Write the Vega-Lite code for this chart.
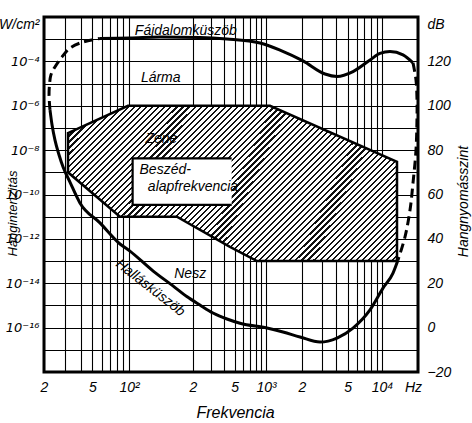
{
"$schema": "https://vega.github.io/schema/vega-lite/v6.json",
"width": 374,
"height": 355,
"autosize": {"type": "none"},
"padding": {"left": 44, "top": 17, "right": 54, "bottom": 51},
"background": "white",
"config": {
  "view": {"stroke": "black", "strokeWidth": 3},
  "axis": {"labelFont": "Liberation Sans Narrow, Liberation Sans", "labelFontStyle": "italic", "labelColor": "black", "labelFontSize": 14,
           "titleFont": "Liberation Sans Narrow, Liberation Sans", "titleFontStyle": "italic", "titleFontWeight": "normal", "titleColor": "black", "titleFontSize": 15,
           "gridColor": "black", "gridOpacity": 1, "gridWidth": 1.1, "ticks": false, "domain": false, "zindex": 1,
           "labelOverlap": false, "labelBound": false, "labelFlush": false},
  "text": {"font": "Liberation Sans Narrow, Liberation Sans", "fontStyle": "italic", "fontSize": 14, "color": "black"}
},
"datasets": {
  "zene": [
    {"i": 1, "f": 31.5, "db": 87.7}, {"i": 2, "f": 98.1, "db": 100}, {"i": 3, "f": 1080, "db": 100},
    {"i": 4, "f": 13348, "db": 74.7}, {"i": 5, "f": 13348, "db": 30}, {"i": 6, "f": 820, "db": 30},
    {"i": 7, "f": 452, "db": 36.4}, {"i": 8, "f": 168, "db": 50}, {"i": 9, "f": 84.3, "db": 50},
    {"i": 10, "f": 31.5, "db": 70}
  ],
  "speech": [{"f": 104, "f2": 469, "db": 55.3, "db2": 76.3}],
  "speechEdge": [
    {"i": 1, "f": 469, "db": 76.3}, {"i": 2, "f": 104, "db": 76.3}, {"i": 3, "f": 104, "db": 55.3}, {"i": 4, "f": 469, "db": 55.3}
  ],
  "painDashL": [
    {"i": 0, "f": 22.4, "db": 98.1}, {"i": 1, "f": 22.0, "db": 104.9}, {"i": 2, "f": 22.2, "db": 109.4},
    {"i": 3, "f": 22.8, "db": 113.9}, {"i": 4, "f": 24.6, "db": 117.5}, {"i": 5, "f": 28.1, "db": 122.0},
    {"i": 6, "f": 32.7, "db": 126.0}, {"i": 7, "f": 41.8, "db": 128.7}, {"i": 8, "f": 57.7, "db": 130.3}
  ],
  "pain": [
    {"i": 0, "f": 57.7, "db": 130.3}, {"i": 1, "f": 101, "db": 130.5}, {"i": 2, "f": 140, "db": 131.0},
    {"i": 3, "f": 233, "db": 130.8}, {"i": 4, "f": 423, "db": 130.1}, {"i": 5, "f": 876, "db": 128.3},
    {"i": 6, "f": 1309, "db": 125.1}, {"i": 7, "f": 2041, "db": 120.2}, {"i": 8, "f": 3177, "db": 114.3},
    {"i": 9, "f": 4044, "db": 113.2}, {"i": 10, "f": 5580, "db": 115.4}, {"i": 11, "f": 7854, "db": 120.6},
    {"i": 12, "f": 9604, "db": 123.6}, {"i": 13, "f": 11665, "db": 124.4}, {"i": 14, "f": 14980, "db": 122.9},
    {"i": 15, "f": 18166, "db": 119.3}
  ],
  "painDashR": [
    {"i": 0, "f": 18166, "db": 119.3}, {"i": 1, "f": 19245, "db": 111.6}, {"i": 2, "f": 19620, "db": 102.6},
    {"i": 3, "f": 19620, "db": 94.9}, {"i": 4, "f": 19245, "db": 80.1}, {"i": 5, "f": 18166, "db": 65.2},
    {"i": 6, "f": 17150, "db": 53.0}, {"i": 7, "f": 15572, "db": 40.9}, {"i": 8, "f": 13608, "db": 30.5}
  ],
  "hearing": [
    {"i": 0, "f": 22.4, "db": 98.1}, {"i": 1, "f": 23.3, "db": 91.3}, {"i": 2, "f": 24.6, "db": 84.6},
    {"i": 3, "f": 26.6, "db": 77.8}, {"i": 4, "f": 28.7, "db": 72.4}, {"i": 5, "f": 32.7, "db": 65.6},
    {"i": 6, "f": 39.5, "db": 56.2}, {"i": 7, "f": 57.7, "db": 47.2}, {"i": 8, "f": 84.3, "db": 37.7},
    {"i": 9, "f": 101, "db": 34.5}, {"i": 10, "f": 130, "db": 25.5}, {"i": 11, "f": 161, "db": 18.8},
    {"i": 12, "f": 187, "db": 14.0}, {"i": 13, "f": 233, "db": 10.2}, {"i": 14, "f": 311, "db": 6.6},
    {"i": 15, "f": 423, "db": 3.9}, {"i": 16, "f": 564, "db": 2.0}, {"i": 17, "f": 1019, "db": -0.2},
    {"i": 18, "f": 1387, "db": -2.0}, {"i": 19, "f": 1924, "db": -4.2}, {"i": 20, "f": 2873, "db": -6.5},
    {"i": 21, "f": 4044, "db": -4.7}, {"i": 22, "f": 5580, "db": -0.2}, {"i": 23, "f": 7854, "db": 8.0},
    {"i": 24, "f": 10194, "db": 17.8}, {"i": 25, "f": 12360, "db": 24.6}, {"i": 26, "f": 13608, "db": 30.5}
  ],
  "labels": [
    {"t": "Fájdalomküszöb", "f": 185, "db": 133.7},
    {"t": "Lárma", "f": 141, "db": 112.7},
    {"t": "Zene", "f": 142, "db": 85.2},
    {"t": "Beszéd-", "f": 148, "db": 71.0},
    {"t": "alapfrekvencia", "f": 200, "db": 63.6},
    {"t": "Nesz", "f": 194, "db": 24.2}
  ],
  "rotLabel": [{"t": "Hallásküszöb", "f": 126, "db": 17.9}]
},
"encoding": {
  "x": {"field": "f", "type": "quantitative",
        "scale": {"type": "log", "domain": [20, 100, 200, 1000, 2000, 10000, 20000], "range": [0, 85, 149, 222, 258, 338, 374], "nice": false},
        "axis": {"values": [20,30,40,50,60,70,80,90,100,200,300,400,500,600,700,800,900,1000,2000,3000,4000,5000,6000,7000,8000,9000,10000,20000],
                 "labelExpr": "datum.value==20?'2':datum.value==50?'5':datum.value==100?'10²':datum.value==200?'2':datum.value==500?'5':datum.value==1000?'10³':datum.value==2000?'2':datum.value==5000?'5':datum.value==10000?'10⁴':datum.value==20000?'Hz':''",
                 "labelPadding": 8, "labelBaseline": "top",
                 "labelOffset": {"condition": {"test": "datum.value == 20000", "value": -5}, "value": 0},
                 "grid": true, "title": "Frekvencia", "titleFontSize": 16, "titleX": 191, "titleY": 40, "titleBaseline": "middle", "titleAlign": "center", "titleAnchor": null}},
  "y": {"field": "db", "type": "quantitative", "scale": {"domain": [-20, 140], "nice": false, "zero": false}, "axis": null}
},
"resolve": {"axis": {"y": "independent"}},
"layer": [
  {
    "data": {"name": "zene"},
    "mark": {"type": "line", "interpolate": "linear-closed", "stroke": "black", "strokeWidth": 2.5,
      "fill": {"gradient": "linear", "x1": 0, "y1": 0, "x2": 1.203, "y2": 0.571, "stops": [
{"offset":0,"color":"#111"},{"offset":0.0045,"color":"#111"},{"offset":0.0045,"color":"#fff"},{"offset":0.0125,"color":"#fff"},
{"offset":0.0125,"color":"#111"},{"offset":0.017,"color":"#111"},{"offset":0.017,"color":"#fff"},{"offset":0.025,"color":"#fff"},
{"offset":0.025,"color":"#111"},{"offset":0.0295,"color":"#111"},{"offset":0.0295,"color":"#fff"},{"offset":0.0375,"color":"#fff"},
{"offset":0.0375,"color":"#111"},{"offset":0.042,"color":"#111"},{"offset":0.042,"color":"#fff"},{"offset":0.05,"color":"#fff"},
{"offset":0.05,"color":"#111"},{"offset":0.0545,"color":"#111"},{"offset":0.0545,"color":"#fff"},{"offset":0.0625,"color":"#fff"},
{"offset":0.0625,"color":"#111"},{"offset":0.067,"color":"#111"},{"offset":0.067,"color":"#fff"},{"offset":0.075,"color":"#fff"},
{"offset":0.075,"color":"#111"},{"offset":0.0795,"color":"#111"},{"offset":0.0795,"color":"#fff"},{"offset":0.0875,"color":"#fff"},
{"offset":0.0875,"color":"#111"},{"offset":0.092,"color":"#111"},{"offset":0.092,"color":"#fff"},{"offset":0.1,"color":"#fff"},
{"offset":0.1,"color":"#111"},{"offset":0.1045,"color":"#111"},{"offset":0.1045,"color":"#fff"},{"offset":0.1125,"color":"#fff"},
{"offset":0.1125,"color":"#111"},{"offset":0.117,"color":"#111"},{"offset":0.117,"color":"#fff"},{"offset":0.125,"color":"#fff"},
{"offset":0.125,"color":"#111"},{"offset":0.1295,"color":"#111"},{"offset":0.1295,"color":"#fff"},{"offset":0.1375,"color":"#fff"},
{"offset":0.1375,"color":"#111"},{"offset":0.142,"color":"#111"},{"offset":0.142,"color":"#fff"},{"offset":0.15,"color":"#fff"},
{"offset":0.15,"color":"#111"},{"offset":0.1545,"color":"#111"},{"offset":0.1545,"color":"#fff"},{"offset":0.1625,"color":"#fff"},
{"offset":0.1625,"color":"#111"},{"offset":0.167,"color":"#111"},{"offset":0.167,"color":"#fff"},{"offset":0.175,"color":"#fff"},
{"offset":0.175,"color":"#111"},{"offset":0.1795,"color":"#111"},{"offset":0.1795,"color":"#fff"},{"offset":0.1875,"color":"#fff"},
{"offset":0.1875,"color":"#111"},{"offset":0.192,"color":"#111"},{"offset":0.192,"color":"#fff"},{"offset":0.2,"color":"#fff"},
{"offset":0.2,"color":"#111"},{"offset":0.2045,"color":"#111"},{"offset":0.2045,"color":"#fff"},{"offset":0.2125,"color":"#fff"},
{"offset":0.2125,"color":"#111"},{"offset":0.217,"color":"#111"},{"offset":0.217,"color":"#fff"},{"offset":0.225,"color":"#fff"},
{"offset":0.225,"color":"#111"},{"offset":0.2295,"color":"#111"},{"offset":0.2295,"color":"#fff"},{"offset":0.2375,"color":"#fff"},
{"offset":0.2375,"color":"#111"},{"offset":0.242,"color":"#111"},{"offset":0.242,"color":"#fff"},{"offset":0.25,"color":"#fff"},
{"offset":0.25,"color":"#111"},{"offset":0.2545,"color":"#111"},{"offset":0.2545,"color":"#fff"},{"offset":0.2625,"color":"#fff"},
{"offset":0.2625,"color":"#111"},{"offset":0.267,"color":"#111"},{"offset":0.267,"color":"#fff"},{"offset":0.275,"color":"#fff"},
{"offset":0.275,"color":"#111"},{"offset":0.2795,"color":"#111"},{"offset":0.2795,"color":"#fff"},{"offset":0.2875,"color":"#fff"},
{"offset":0.2875,"color":"#111"},{"offset":0.292,"color":"#111"},{"offset":0.292,"color":"#fff"},{"offset":0.3,"color":"#fff"},
{"offset":0.3,"color":"#111"},{"offset":0.3045,"color":"#111"},{"offset":0.3045,"color":"#fff"},{"offset":0.3125,"color":"#fff"},
{"offset":0.3125,"color":"#111"},{"offset":0.317,"color":"#111"},{"offset":0.317,"color":"#fff"},{"offset":0.325,"color":"#fff"},
{"offset":0.325,"color":"#111"},{"offset":0.3295,"color":"#111"},{"offset":0.3295,"color":"#fff"},{"offset":0.3375,"color":"#fff"},
{"offset":0.3375,"color":"#111"},{"offset":0.342,"color":"#111"},{"offset":0.342,"color":"#fff"},{"offset":0.35,"color":"#fff"},
{"offset":0.35,"color":"#111"},{"offset":0.3545,"color":"#111"},{"offset":0.3545,"color":"#fff"},{"offset":0.3625,"color":"#fff"},
{"offset":0.3625,"color":"#111"},{"offset":0.367,"color":"#111"},{"offset":0.367,"color":"#fff"},{"offset":0.375,"color":"#fff"},
{"offset":0.375,"color":"#111"},{"offset":0.3795,"color":"#111"},{"offset":0.3795,"color":"#fff"},{"offset":0.3875,"color":"#fff"},
{"offset":0.3875,"color":"#111"},{"offset":0.392,"color":"#111"},{"offset":0.392,"color":"#fff"},{"offset":0.4,"color":"#fff"},
{"offset":0.4,"color":"#111"},{"offset":0.4045,"color":"#111"},{"offset":0.4045,"color":"#fff"},{"offset":0.4125,"color":"#fff"},
{"offset":0.4125,"color":"#111"},{"offset":0.417,"color":"#111"},{"offset":0.417,"color":"#fff"},{"offset":0.425,"color":"#fff"},
{"offset":0.425,"color":"#111"},{"offset":0.4295,"color":"#111"},{"offset":0.4295,"color":"#fff"},{"offset":0.4375,"color":"#fff"},
{"offset":0.4375,"color":"#111"},{"offset":0.442,"color":"#111"},{"offset":0.442,"color":"#fff"},{"offset":0.45,"color":"#fff"},
{"offset":0.45,"color":"#111"},{"offset":0.4545,"color":"#111"},{"offset":0.4545,"color":"#fff"},{"offset":0.4625,"color":"#fff"},
{"offset":0.4625,"color":"#111"},{"offset":0.467,"color":"#111"},{"offset":0.467,"color":"#fff"},{"offset":0.475,"color":"#fff"},
{"offset":0.475,"color":"#111"},{"offset":0.4795,"color":"#111"},{"offset":0.4795,"color":"#fff"},{"offset":0.4875,"color":"#fff"},
{"offset":0.4875,"color":"#111"},{"offset":0.492,"color":"#111"},{"offset":0.492,"color":"#fff"},{"offset":0.5,"color":"#fff"},
{"offset":0.5,"color":"#111"},{"offset":0.5045,"color":"#111"},{"offset":0.5045,"color":"#fff"},{"offset":0.5125,"color":"#fff"},
{"offset":0.5125,"color":"#111"},{"offset":0.517,"color":"#111"},{"offset":0.517,"color":"#fff"},{"offset":0.525,"color":"#fff"},
{"offset":0.525,"color":"#111"},{"offset":0.5295,"color":"#111"},{"offset":0.5295,"color":"#fff"},{"offset":0.5375,"color":"#fff"},
{"offset":0.5375,"color":"#111"},{"offset":0.542,"color":"#111"},{"offset":0.542,"color":"#fff"},{"offset":0.55,"color":"#fff"},
{"offset":0.55,"color":"#111"},{"offset":0.5545,"color":"#111"},{"offset":0.5545,"color":"#fff"},{"offset":0.5625,"color":"#fff"},
{"offset":0.5625,"color":"#111"},{"offset":0.567,"color":"#111"},{"offset":0.567,"color":"#fff"},{"offset":0.575,"color":"#fff"},
{"offset":0.575,"color":"#111"},{"offset":0.5795,"color":"#111"},{"offset":0.5795,"color":"#fff"},{"offset":0.5875,"color":"#fff"},
{"offset":0.5875,"color":"#111"},{"offset":0.592,"color":"#111"},{"offset":0.592,"color":"#fff"},{"offset":0.6,"color":"#fff"},
{"offset":0.6,"color":"#111"},{"offset":0.6045,"color":"#111"},{"offset":0.6045,"color":"#fff"},{"offset":0.6125,"color":"#fff"},
{"offset":0.6125,"color":"#111"},{"offset":0.617,"color":"#111"},{"offset":0.617,"color":"#fff"},{"offset":0.625,"color":"#fff"},
{"offset":0.625,"color":"#111"},{"offset":0.6295,"color":"#111"},{"offset":0.6295,"color":"#fff"},{"offset":0.6375,"color":"#fff"},
{"offset":0.6375,"color":"#111"},{"offset":0.642,"color":"#111"},{"offset":0.642,"color":"#fff"},{"offset":0.65,"color":"#fff"},
{"offset":0.65,"color":"#111"},{"offset":0.6545,"color":"#111"},{"offset":0.6545,"color":"#fff"},{"offset":0.6625,"color":"#fff"},
{"offset":0.6625,"color":"#111"},{"offset":0.667,"color":"#111"},{"offset":0.667,"color":"#fff"},{"offset":0.675,"color":"#fff"},
{"offset":0.675,"color":"#111"},{"offset":0.6795,"color":"#111"},{"offset":0.6795,"color":"#fff"},{"offset":0.6875,"color":"#fff"},
{"offset":0.6875,"color":"#111"},{"offset":0.692,"color":"#111"},{"offset":0.692,"color":"#fff"},{"offset":0.7,"color":"#fff"},
{"offset":0.7,"color":"#111"},{"offset":0.7045,"color":"#111"},{"offset":0.7045,"color":"#fff"},{"offset":0.7125,"color":"#fff"},
{"offset":0.7125,"color":"#111"},{"offset":0.717,"color":"#111"},{"offset":0.717,"color":"#fff"},{"offset":0.725,"color":"#fff"},
{"offset":0.725,"color":"#111"},{"offset":0.7295,"color":"#111"},{"offset":0.7295,"color":"#fff"},{"offset":0.7375,"color":"#fff"},
{"offset":0.7375,"color":"#111"},{"offset":0.742,"color":"#111"},{"offset":0.742,"color":"#fff"},{"offset":0.75,"color":"#fff"},
{"offset":0.75,"color":"#111"},{"offset":0.7545,"color":"#111"},{"offset":0.7545,"color":"#fff"},{"offset":0.7625,"color":"#fff"},
{"offset":0.7625,"color":"#111"},{"offset":0.767,"color":"#111"},{"offset":0.767,"color":"#fff"},{"offset":0.775,"color":"#fff"},
{"offset":0.775,"color":"#111"},{"offset":0.7795,"color":"#111"},{"offset":0.7795,"color":"#fff"},{"offset":0.7875,"color":"#fff"},
{"offset":0.7875,"color":"#111"},{"offset":0.792,"color":"#111"},{"offset":0.792,"color":"#fff"},{"offset":0.8,"color":"#fff"},
{"offset":0.8,"color":"#111"},{"offset":0.8045,"color":"#111"},{"offset":0.8045,"color":"#fff"},{"offset":0.8125,"color":"#fff"},
{"offset":0.8125,"color":"#111"},{"offset":0.817,"color":"#111"},{"offset":0.817,"color":"#fff"},{"offset":0.825,"color":"#fff"},
{"offset":0.825,"color":"#111"},{"offset":0.8295,"color":"#111"},{"offset":0.8295,"color":"#fff"},{"offset":0.8375,"color":"#fff"},
{"offset":0.8375,"color":"#111"},{"offset":0.842,"color":"#111"},{"offset":0.842,"color":"#fff"},{"offset":0.85,"color":"#fff"},
{"offset":0.85,"color":"#111"},{"offset":0.8545,"color":"#111"},{"offset":0.8545,"color":"#fff"},{"offset":0.8625,"color":"#fff"},
{"offset":0.8625,"color":"#111"},{"offset":0.867,"color":"#111"},{"offset":0.867,"color":"#fff"},{"offset":0.875,"color":"#fff"},
{"offset":0.875,"color":"#111"},{"offset":0.8795,"color":"#111"},{"offset":0.8795,"color":"#fff"},{"offset":0.8875,"color":"#fff"},
{"offset":0.8875,"color":"#111"},{"offset":0.892,"color":"#111"},{"offset":0.892,"color":"#fff"},{"offset":0.9,"color":"#fff"},
{"offset":0.9,"color":"#111"},{"offset":0.9045,"color":"#111"},{"offset":0.9045,"color":"#fff"},{"offset":0.9125,"color":"#fff"},
{"offset":0.9125,"color":"#111"},{"offset":0.917,"color":"#111"},{"offset":0.917,"color":"#fff"},{"offset":0.925,"color":"#fff"},
{"offset":0.925,"color":"#111"},{"offset":0.9295,"color":"#111"},{"offset":0.9295,"color":"#fff"},{"offset":0.9375,"color":"#fff"},
{"offset":0.9375,"color":"#111"},{"offset":0.942,"color":"#111"},{"offset":0.942,"color":"#fff"},{"offset":0.95,"color":"#fff"},
{"offset":0.95,"color":"#111"},{"offset":0.9545,"color":"#111"},{"offset":0.9545,"color":"#fff"},{"offset":0.9625,"color":"#fff"},
{"offset":0.9625,"color":"#111"},{"offset":0.967,"color":"#111"},{"offset":0.967,"color":"#fff"},{"offset":0.975,"color":"#fff"},
{"offset":0.975,"color":"#111"},{"offset":0.9795,"color":"#111"},{"offset":0.9795,"color":"#fff"},{"offset":0.9875,"color":"#fff"},
{"offset":0.9875,"color":"#111"},{"offset":0.992,"color":"#111"},{"offset":0.992,"color":"#fff"},{"offset":1,"color":"#fff"}
      ]}},
    "encoding": {
      "order": {"field": "i", "type": "quantitative"},
      "y": {"field": "db", "type": "quantitative", "scale": {"domain": [-20, 140], "nice": false, "zero": false},
            "axis": {"orient": "left", "values": [-20,-10,0,10,20,30,40,50,60,70,80,90,100,110,120,130,140], "grid": true,
                     "labelExpr": "datum.value >= 0 && datum.value % 20 == 0 ? ['10⁻¹⁶','10⁻¹⁴','10⁻¹²','10⁻¹⁰','10⁻⁸','10⁻⁶','10⁻⁴','W/cm²'][datum.value/20] : ''",
                     "labelPadding": 5, "labelFontSize": {"condition": {"test": "datum.value == 140", "value": 14}, "value": 13},
                     "labelFont": {"condition": {"test": "datum.value == 140", "value": "Liberation Sans Narrow, Liberation Sans"}, "value": "DejaVu Sans"},
                     "labelBaseline": {"condition": {"test": "datum.value == 140", "value": "top"}, "value": "middle"},
                     "title": "Hangintenzitás", "titleFontSize": 13, "titleAngle": -90, "titleX": -32, "titleY": 196, "titleAlign": "center", "titleBaseline": "middle", "titleAnchor": null}}
    }
  },
  {
    "data": {"name": "speech"},
    "mark": {"type": "rect", "fill": "white", "stroke": null},
    "encoding": {"x2": {"field": "f2"}, "y2": {"field": "db2"}}
  },
  {
    "data": {"name": "speechEdge"},
    "mark": {"type": "line", "stroke": "black", "strokeWidth": 2.2, "interpolate": "linear"},
    "encoding": {"order": {"field": "i", "type": "quantitative"}}
  },
  {
    "data": {"name": "painDashL"},
    "mark": {"type": "line", "stroke": "black", "strokeWidth": 3, "strokeDash": [9, 5], "interpolate": "catmull-rom"},
    "encoding": {"order": {"field": "i", "type": "quantitative"}}
  },
  {
    "data": {"name": "pain"},
    "mark": {"type": "line", "stroke": "black", "strokeWidth": 3, "interpolate": "monotone"},
    "encoding": {"order": {"field": "i", "type": "quantitative"}}
  },
  {
    "data": {"name": "painDashR"},
    "mark": {"type": "line", "stroke": "black", "strokeWidth": 3, "strokeDash": [9, 5], "interpolate": "catmull-rom"},
    "encoding": {"order": {"field": "i", "type": "quantitative"}}
  },
  {
    "data": {"name": "hearing"},
    "mark": {"type": "line", "stroke": "black", "strokeWidth": 3, "interpolate": "monotone"},
    "encoding": {
      "order": {"field": "i", "type": "quantitative"},
      "y": {"field": "db", "type": "quantitative", "scale": {"domain": [-20, 140], "nice": false, "zero": false},
            "axis": {"orient": "right", "values": [-20,0,20,40,60,80,100,120,140], "grid": false,
                     "labelExpr": "datum.value == 140 ? 'dB' : datum.label",
                     "labelPadding": 9, "labelFontSize": 14,
                     "labelBaseline": {"condition": {"test": "datum.value == 140", "value": "top"}, "value": "middle"},
                     "title": "Hangnyomásszint", "titleFontSize": 14, "titleAngle": -90, "titleX": 45, "titleY": 184, "titleAlign": "center", "titleBaseline": "middle", "titleAnchor": null}}
    }
  },
  {
    "data": {"name": "labels"},
    "mark": {"type": "text", "align": "center", "baseline": "middle"},
    "encoding": {"text": {"field": "t"}}
  },
  {
    "data": {"name": "rotLabel"},
    "mark": {"type": "text", "align": "center", "baseline": "middle", "angle": 38},
    "encoding": {"text": {"field": "t"}}
  }
]
}
